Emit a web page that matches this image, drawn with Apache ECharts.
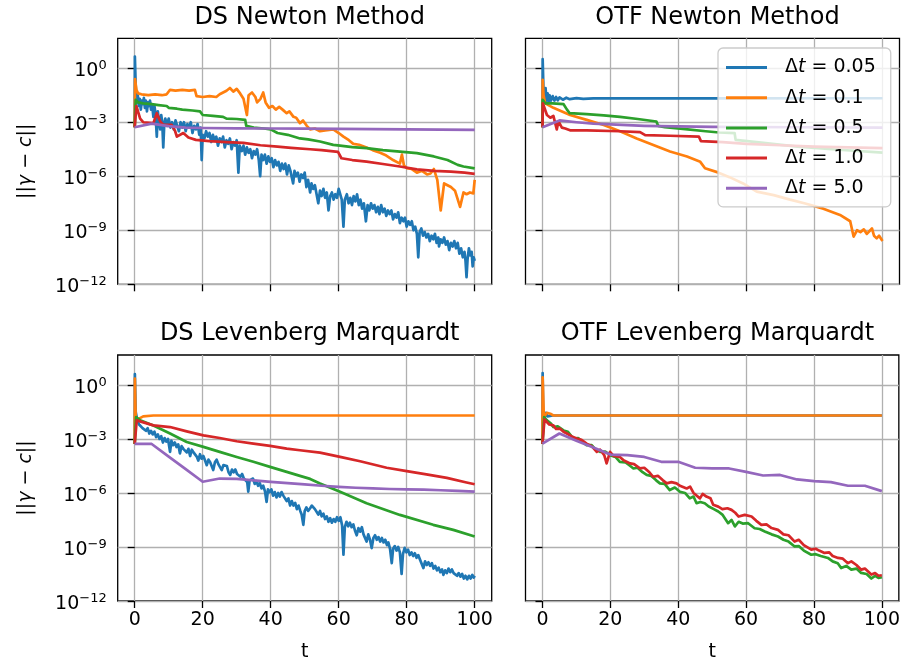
<!DOCTYPE html>
<html>
<head>
<meta charset="utf-8">
<script src="https://cdn.jsdelivr.net/npm/echarts@6/dist/echarts.min.js"></script>
<style>
  html, body { margin: 0; padding: 0; background: #fff; }
  #chart { width: 903px; height: 664px; }
</style>
</head>
<body>
<div id="chart"></div>
<script>
// Convergence of ||γ − c|| over time for four solver variants and five time steps.
// Every series is a list of [t, log10(||γ − c||)] pairs.

const stepLabels = ['0.05', '0.1', '0.5', '1.0', '5.0'];
const lineColors = ['#1f77b4', '#ff7f0e', '#2ca02c', '#d62728', '#9467bd'];
const panelTitles = ['DS Newton Method', 'OTF Newton Method', 'DS Levenberg Marquardt', 'OTF Levenberg Marquardt'];
const xTickValues = [0, 20, 40, 60, 80, 100];
const yTickExponents = [-12, -9, -6, -3, 0];

// ---- DS Newton Method ----
const dsNewtonDt005 = [[0,-3.28],[0.05,0.65],[0.3,-1.0],[0.6,-1.9],[0.9,-1.5],[1.2,-2.1],[1.5,-1.7],[1.8,-2.3],[2.1,-1.8],[2.4,-2.0],[2.7,-1.65],[3.0,-2.2],[3.3,-1.8],[3.6,-2.4],[3.9,-1.9],[4.2,-2.1],[4.5,-1.8],[4.8,-2.3],[5.1,-2.0],[5.5,-2.7],[5.8,-2.1],[6.1,-2.5],[6.5,-3.8],[6.8,-2.4],[7.1,-2.9],[7.5,-3.4],[7.8,-2.6],[8.1,-3.0],[8.4,-4.4],[8.7,-3.1],[9.0,-2.8],[9.5,-3.2],[10,-2.8],[10.5,-3.3],[11,-3.0],[11.5,-3.4],[12,-2.9],[12.5,-3.2],[13,-3.5],[13.5,-3.0],[14,-3.3],[14.5,-3.0],[15,-3.5],[15.5,-3.1],[16,-3.3],[16.5,-3.0],[17,-3.6],[17.5,-3.2],[18,-3.4],[18.5,-3.1],[19,-3.7],[19.4,-3.3],[19.7,-5.1],[20,-3.7],[20.5,-3.9],[21,-3.5],[21.5,-3.8],[22,-3.6],[22.5,-4.1],[23,-3.7],[23.5,-4.0],[24,-3.8],[24.5,-4.3],[25,-3.9],[25.5,-4.1],[26,-3.8],[26.5,-4.4],[27,-4.0],[27.5,-4.2],[28,-3.9],[28.5,-4.5],[29,-4.1],[29.5,-4.3],[30,-4.0],[30.5,-5.8],[30.9,-4.3],[31.5,-4.6],[32,-4.3],[32.5,-4.8],[33,-4.4],[33.5,-4.7],[34,-4.5],[34.5,-5.0],[35,-4.6],[35.5,-4.8],[36,-4.5],[36.5,-5.1],[36.9,-6.0],[37.3,-4.8],[37.8,-5.1],[38.3,-4.8],[38.8,-5.3],[39.3,-4.9],[39.8,-5.2],[40.3,-5.0],[40.8,-5.5],[41.3,-5.1],[41.8,-5.4],[42.3,-5.2],[42.8,-5.7],[43.3,-5.3],[43.8,-5.6],[44.3,-5.3],[44.8,-5.9],[45.3,-5.4],[45.8,-5.7],[46.3,-5.6],[46.6,-6.4],[47,-5.7],[47.5,-6.0],[48,-5.8],[48.5,-6.3],[49,-5.9],[49.5,-6.1],[50,-5.8],[50.5,-6.6],[51,-6.2],[51.6,-6.9],[52,-6.4],[52.5,-6.7],[53,-6.5],[53.5,-7.0],[54,-7.5],[54.5,-6.8],[55,-7.1],[55.5,-6.7],[56,-7.2],[56.5,-6.9],[57,-7.9],[57.5,-7.1],[58,-6.9],[58.5,-7.3],[59,-7.0],[59.5,-7.2],[60,-6.7],[60.4,-6.6],[60.9,-7.3],[61.4,-8.8],[61.8,-7.3],[62.4,-7.0],[62.9,-7.5],[63.4,-7.2],[63.9,-7.6],[64.4,-7.1],[64.9,-7.4],[65.4,-7.0],[65.9,-7.6],[66.4,-7.3],[66.9,-7.8],[67.4,-7.5],[68,-8.5],[68.5,-7.6],[69,-7.9],[69.5,-7.5],[70,-7.8],[70.5,-7.6],[71,-8.0],[71.5,-7.7],[72,-8.1],[72.5,-7.6],[73,-8.0],[73.5,-7.8],[74,-8.2],[74.5,-7.9],[75,-8.1],[75.5,-7.9],[76,-8.4],[76.5,-8.1],[77,-8.3],[77.5,-8.0],[78,-8.6],[78.5,-8.3],[79,-8.5],[79.5,-8.3],[80,-8.8],[80.5,-8.5],[81,-8.7],[81.5,-8.5],[82,-9.0],[82.5,-8.8],[83,-9.2],[83.4,-10.5],[83.8,-9.1],[84.3,-8.9],[84.8,-9.3],[85.3,-9.1],[85.8,-9.4],[86.3,-9.2],[86.8,-9.6],[87.3,-9.3],[87.8,-9.5],[88.3,-9.2],[88.8,-9.7],[89.3,-9.4],[89.5,-9.9],[90,-9.5],[90.5,-9.7],[91,-9.4],[91.5,-9.8],[92,-9.6],[92.5,-10.1],[93,-9.7],[93.5,-9.9],[94,-9.6],[94.5,-10.0],[95,-9.7],[95.5,-10.3],[96,-10.0],[96.5,-10.5],[97,-10.2],[97.3,-10.7],[97.6,-11.6],[97.9,-10.6],[98.3,-10.0],[98.7,-10.4],[99.1,-10.2],[99.4,-11.0],[99.7,-10.5],[100,-10.7]];
const dsNewtonDt01 = [[0,-3.28],[0.1,-0.6],[0.5,-1.2],[1,-1.4],[2,-1.45],[4,-1.5],[6,-1.45],[8,-1.5],[9.4,-1.45],[10.4,-1.2],[12,-1.25],[14,-1.2],[16,-1.25],[17.7,-1.2],[18.2,-1.55],[20,-1.6],[22,-1.55],[24,-1.6],[25,-1.45],[26,-1.35],[27,-1.25],[28,-1.1],[29,-1.3],[30,-1.15],[31,-1.4],[32,-1.7],[33,-2.6],[33.5,-1.5],[34.5,-1.35],[35.5,-1.6],[36,-1.9],[37,-1.7],[37.8,-1.35],[38.5,-1.9],[39.5,-2.2],[40.5,-2.1],[41.5,-2.3],[42.5,-2.15],[43.5,-2.3],[44.7,-2.5],[45.5,-2.4],[46.7,-2.7],[47.5,-2.75],[48.6,-3.05],[49.5,-2.9],[50.6,-3.2],[51.6,-3.4],[53,-3.35],[54.5,-3.5],[56,-3.45],[58.4,-3.4],[60,-3.6],[61.4,-3.8],[63,-4.0],[64.3,-4.2],[66,-4.25],[68.2,-4.4],[70,-4.55],[72.2,-4.7],[74,-4.85],[76,-5.1],[78,-5.3],[78.6,-4.8],[79.2,-5.4],[80,-5.55],[81.5,-5.6],[83,-5.8],[84.5,-5.7],[86,-5.9],[87,-5.85],[88,-5.6],[89,-6.2],[90,-7.9],[91,-6.4],[92,-6.5],[93,-6.6],[94.2,-6.8],[95.7,-7.7],[96.7,-6.9],[97.6,-7.0],[98.6,-6.9],[99.6,-6.95],[100,-6.2]];
const dsNewtonDt05 = [[0,-3.28],[0.3,-1.76],[1,-1.9],[2.5,-1.95],[5,-2.0],[7,-2.05],[9.4,-2.1],[10,-2.2],[12.4,-2.25],[14,-2.3],[17,-2.35],[19.2,-2.4],[20,-2.6],[23,-2.65],[26,-2.7],[27,-2.8],[30,-2.82],[32.5,-2.87],[32.8,-3.2],[35,-3.3],[38,-3.35],[40,-3.4],[42,-3.6],[45,-3.7],[48.6,-3.9],[51,-3.95],[54.5,-4.07],[58.4,-4.26],[60.4,-4.3],[64,-4.38],[68.2,-4.44],[73,-4.55],[78,-4.63],[83,-4.72],[88,-4.9],[92,-5.1],[95,-5.37],[96.7,-5.46],[100,-5.56]];
const dsNewtonDt10 = [[0,-3.28],[0.5,-2.1],[1.6,-2.8],[2.5,-3.0],[5.5,-3.05],[6.5,-2.5],[7.5,-2.95],[8.4,-3.15],[10.9,-3.15],[11.9,-3.5],[12.4,-3.8],[14.3,-3.6],[15.8,-3.85],[18,-3.98],[22,-4.05],[27,-4.1],[32,-4.15],[37,-4.28],[42,-4.35],[46,-4.42],[51.6,-4.5],[55,-4.55],[59.8,-4.65],[60.8,-5.0],[64,-5.1],[68.2,-5.19],[73,-5.32],[78,-5.46],[83,-5.62],[88,-5.7],[93,-5.74],[97,-5.8],[100,-5.87]];
const dsNewtonDt50 = [[0,-3.28],[5,-3.08],[10,-3.22],[15,-3.3],[20,-3.32],[30,-3.34],[40,-3.35],[50,-3.36],[60,-3.37],[70,-3.38],[80,-3.4],[90,-3.41],[100,-3.43]];

// ---- OTF Newton Method ----
const otfNewtonDt005 = [[0,-3.28],[0.05,0.5],[0.3,-1.3],[0.6,-1.9],[0.9,-1.1],[1.2,-1.8],[1.5,-1.4],[1.8,-1.85],[2.1,-1.5],[2.5,-1.8],[3,-1.55],[3.5,-1.8],[4,-1.6],[4.5,-1.78],[5,-1.62],[6,-1.75],[7,-1.64],[8,-1.72],[10,-1.66],[12,-1.7],[15,-1.68],[20,-1.68],[40,-1.68],[60,-1.68],[80,-1.67],[100,-1.67]];
const otfNewtonDt01 = [[0,-3.28],[0.05,-0.65],[0.3,-1.5],[0.8,-1.95],[3.2,-2.2],[8.1,-2.6],[13,-2.87],[18,-3.15],[22.8,-3.5],[27.7,-3.9],[32.6,-4.26],[37.5,-4.63],[42.5,-4.9],[46.4,-5.2],[47.8,-5.56],[51.8,-5.8],[55,-6.05],[59,-6.4],[63,-6.85],[68,-7.05],[72.8,-7.3],[77,-7.5],[82.6,-7.8],[87.5,-8.15],[90.5,-8.5],[91.5,-9.35],[92.5,-9.0],[93.5,-9.1],[94.5,-8.95],[95.4,-9.2],[96.9,-8.9],[97.5,-9.3],[98.3,-9.45],[99,-9.3],[100,-9.6]];
const otfNewtonDt05 = [[0,-3.28],[0.05,-1.76],[0.8,-1.95],[3,-1.95],[6.2,-2.0],[7.2,-2.3],[8,-2.5],[13,-2.55],[18,-2.62],[22.8,-2.7],[28,-2.82],[33.5,-2.96],[34,-3.2],[36,-3.28],[42,-3.38],[48,-3.5],[52,-3.57],[56.5,-3.6],[56.8,-3.98],[65,-4.15],[75,-4.35],[85,-4.5],[100,-4.69]];
const otfNewtonDt10 = [[0,-3.28],[0.1,-1.95],[1.3,-2.6],[2.3,-2.75],[3.2,-2.65],[4.2,-3.4],[4.7,-2.95],[5.7,-3.3],[6.7,-3.35],[8.1,-3.45],[13,-3.45],[22.8,-3.5],[28.7,-3.55],[30.2,-3.72],[37.5,-3.75],[46,-3.8],[46.6,-4.05],[53,-4.1],[60,-4.2],[70,-4.28],[80,-4.35],[90,-4.4],[100,-4.44]];
const otfNewtonDt50 = [[0,-3.28],[5,-2.9],[10,-3.0],[15,-3.08],[20,-3.12],[25,-3.16],[30,-3.2],[35,-3.22],[50,-3.26],[75,-3.28],[100,-3.3]];

// ---- DS Levenberg Marquardt ----
const dsLmDt005 = [[0,-3.28],[0.05,0.6],[0.3,-1.5],[0.8,-2.0],[1.3,-2.2],[1.8,-2.1],[2.3,-2.4],[2.8,-2.3],[3.3,-2.55],[3.8,-2.4],[4.3,-2.7],[4.8,-2.55],[5.3,-2.75],[5.8,-2.6],[6.3,-2.9],[6.8,-2.75],[7.3,-3.0],[7.8,-2.85],[8.3,-3.2],[8.8,-2.95],[9.3,-3.15],[9.8,-3.0],[10.4,-3.72],[10.8,-3.1],[11.3,-3.35],[11.8,-3.2],[12.3,-3.45],[12.8,-3.3],[13.3,-3.8],[13.8,-3.4],[14.3,-3.55],[14.8,-3.45],[15.3,-3.75],[15.8,-3.55],[16.3,-3.95],[16.8,-3.6],[17.3,-3.75],[17.8,-3.7],[18.3,-4.0],[18.7,-4.2],[19.2,-3.85],[19.7,-4.1],[20.2,-3.95],[20.7,-4.2],[21.2,-4.46],[21.7,-4.15],[22.2,-4.3],[22.7,-4.2],[23.1,-4.73],[23.6,-4.3],[24.1,-4.15],[24.6,-4.4],[25.1,-4.3],[25.6,-4.73],[26.1,-4.45],[26.6,-4.55],[27.1,-4.5],[27.6,-4.85],[28.1,-5.0],[28.6,-4.7],[29.1,-4.85],[29.6,-4.7],[30.1,-4.95],[30.6,-4.85],[31.1,-5.1],[31.6,-4.95],[32.1,-5.2],[32.6,-5.1],[33.1,-5.4],[33.4,-5.93],[33.8,-5.3],[34.3,-5.35],[34.8,-5.2],[35.3,-5.5],[35.8,-5.35],[36.3,-5.6],[36.8,-5.45],[37.3,-5.75],[37.8,-5.6],[38.3,-5.9],[38.8,-6.5],[39.2,-5.8],[39.7,-5.95],[40.2,-5.8],[40.7,-6.15],[41.2,-5.95],[41.7,-6.25],[42.2,-6.0],[42.7,-6.2],[43.2,-5.95],[43.7,-6.15],[44.2,-6.1],[44.7,-6.45],[45.2,-6.3],[45.7,-6.7],[46.2,-6.45],[46.7,-6.7],[47.2,-6.55],[47.7,-6.9],[48.2,-6.7],[48.7,-7.0],[49.1,-7.2],[49.6,-7.77],[50,-7.0],[50.5,-6.8],[51,-7.0],[51.6,-6.85],[52.1,-6.7],[52.5,-6.6],[53,-6.9],[53.5,-6.85],[54,-7.2],[54.5,-7.0],[55,-7.3],[55.5,-7.15],[56,-7.45],[56.5,-7.3],[57,-7.6],[57.5,-7.4],[58,-7.65],[58.5,-7.45],[59,-7.6],[59.5,-7.35],[60,-7.55],[60.5,-7.35],[61,-7.8],[61.4,-9.43],[61.8,-7.9],[62.3,-7.6],[62.8,-7.85],[63.3,-7.65],[63.8,-7.9],[64.3,-7.75],[64.8,-8.1],[65.3,-8.35],[65.8,-7.95],[66.3,-8.15],[66.8,-7.9],[67.3,-8.3],[67.8,-8.2],[68.2,-8.7],[68.7,-8.3],[69.2,-8.6],[69.7,-9.06],[70.2,-8.5],[70.7,-8.35],[71.2,-8.6],[71.7,-8.45],[72.2,-8.7],[72.7,-8.5],[73.2,-8.75],[73.7,-8.6],[74.2,-8.9],[74.6,-8.75],[75.1,-9.1],[75.6,-9.9],[76,-9.1],[76.5,-8.95],[77,-9.2],[77.5,-9.0],[78,-9.3],[78.5,-10.5],[78.9,-9.4],[79.4,-9.05],[79.9,-9.3],[80.4,-9.15],[80.9,-9.45],[81.4,-9.3],[81.9,-9.5],[82.4,-9.35],[82.9,-9.6],[83.4,-9.45],[83.9,-9.7],[84.4,-9.6],[84.9,-10.17],[85.4,-9.8],[85.9,-10.0],[86.4,-9.85],[86.9,-10.05],[87.4,-9.9],[87.9,-10.2],[88.4,-10.05],[88.9,-10.3],[89.4,-10.15],[89.9,-10.4],[90.4,-10.25],[90.8,-10.55],[91.3,-10.3],[91.8,-10.45],[92.3,-10.2],[92.8,-10.4],[93.3,-10.25],[93.8,-10.45],[94.3,-10.35],[94.8,-10.6],[95.3,-10.45],[95.8,-10.65],[96.3,-10.5],[96.8,-10.75],[97.3,-10.6],[97.8,-10.8],[98.3,-10.6],[98.8,-10.75],[99.3,-10.55],[99.7,-10.7],[100,-10.6]];
const dsLmDt01 = [[0,-3.28],[0.05,0.35],[0.3,-1.9],[1,-1.9],[2.5,-1.75],[5.5,-1.7],[100,-1.7]];
const dsLmDt05 = [[0,-3.28],[0.4,-1.79],[1.6,-1.97],[5.5,-2.25],[10.4,-2.7],[15.3,-3.17],[20.2,-3.44],[25,-3.72],[30,-4.0],[34.9,-4.27],[39.8,-4.55],[44.7,-4.83],[48.6,-5.05],[51.6,-5.22],[54.5,-5.47],[60.4,-5.93],[68.2,-6.57],[78,-7.22],[87.8,-7.77],[93.7,-8.05],[100,-8.42]];
const dsLmDt10 = [[0,-3.28],[0.6,-1.97],[5.5,-2.25],[10.4,-2.34],[15.3,-2.58],[20.2,-2.8],[25,-2.95],[30,-3.13],[34.9,-3.26],[39.8,-3.39],[44.7,-3.54],[48.6,-3.63],[54.5,-3.76],[60.4,-4.0],[66.3,-4.24],[74.1,-4.6],[80,-4.79],[85.8,-4.97],[91.8,-5.16],[97.6,-5.42],[100,-5.52]];
const dsLmDt50 = [[0,-3.28],[5,-3.28],[10,-3.98],[15,-4.68],[20,-5.38],[25,-5.2],[30,-5.22],[35,-5.3],[40,-5.38],[45,-5.45],[50,-5.52],[55,-5.6],[60,-5.66],[65,-5.71],[70,-5.75],[75,-5.78],[80,-5.8],[85,-5.82],[90,-5.85],[95,-5.89],[100,-5.93]];

// ---- OTF Levenberg Marquardt ----
const otfLmDt005 = [[0,-3.28],[0.05,0.66],[0.2,-1.5],[0.5,-1.9],[1,-1.55],[1.5,-1.75],[3,-1.7],[100,-1.7]];
const otfLmDt01 = [[0,-3.28],[0.05,0.42],[0.4,-1.8],[1.3,-1.55],[2.3,-1.6],[3.2,-1.7],[100,-1.7]];
const otfLmDt05 = [[0,-3.28],[0.5,-1.79],[1.3,-1.97],[2.5,-2.15],[3.2,-2.34],[4.5,-2.3],[6.2,-2.53],[7.5,-2.6],[9.1,-2.98],[10.5,-2.95],[12,-3.2],[13,-3.35],[14.5,-3.35],[15.5,-3.55],[17,-3.72],[18.5,-3.7],[19.9,-3.9],[21.5,-4.0],[22.8,-4.27],[24.5,-4.3],[25.5,-4.45],[26.8,-4.64],[28,-4.6],[29.5,-4.85],[30.7,-5.0],[32,-5.05],[33.5,-5.3],[34.6,-5.47],[36,-5.5],[37.5,-5.84],[39,-5.7],[40.5,-5.93],[42,-6.0],[43.4,-6.3],[44.5,-6.2],[45.4,-6.57],[46.5,-6.5],[47.8,-6.57],[49,-6.75],[50.5,-6.9],[51.8,-7.03],[53,-7.2],[54.7,-7.68],[55.7,-7.5],[56.7,-7.86],[57.8,-7.6],[59,-7.7],[60.6,-7.68],[62.5,-7.96],[64,-8.0],[65.5,-8.14],[67.5,-8.3],[69.4,-8.42],[71,-8.6],[72.5,-8.7],[74.3,-8.97],[75.5,-8.95],[77,-9.2],[79.2,-9.43],[80.5,-9.4],[82,-9.5],[84.1,-9.61],[85.5,-9.8],[87,-9.9],[88,-10.17],[89.5,-10.05],[91,-10.26],[92.5,-10.2],[93.9,-10.44],[95.5,-10.5],[96.9,-10.75],[98,-10.6],[99,-10.72],[100,-10.68]];
const otfLmDt10 = [[0,-3.28],[0.6,-1.92],[1.3,-2.06],[2,-2.2],[3.2,-2.25],[4,-2.45],[5.2,-2.43],[6.2,-2.6],[7.2,-2.7],[8.5,-2.85],[10.1,-2.98],[11.5,-3.05],[13,-3.26],[14.5,-3.4],[16,-3.72],[17,-3.6],[18.2,-3.9],[18.9,-4.36],[19.9,-3.72],[21,-3.95],[22.8,-4.0],[24,-4.2],[25.8,-4.36],[27,-4.4],[28.7,-4.64],[30,-4.6],[31.5,-4.85],[32.6,-5.1],[34,-5.05],[35.5,-5.3],[36.6,-5.47],[38,-5.4],[39.5,-5.47],[40.5,-5.6],[42.5,-5.75],[43.5,-5.65],[44.5,-6.0],[46.4,-6.3],[47.2,-6.05],[48.3,-6.2],[49.5,-6.3],[50.3,-6.66],[51.8,-6.76],[53,-6.9],[54.5,-6.85],[55.7,-6.94],[56.8,-7.1],[57.8,-7.31],[59.6,-7.22],[61.6,-7.31],[63,-7.55],[64.5,-7.77],[66,-7.75],[67.5,-7.95],[69.4,-8.05],[71,-8.3],[72.5,-8.35],[74.3,-8.7],[75.5,-8.6],[77,-8.9],[79.2,-9.15],[80.5,-9.1],[81.5,-9.2],[83.1,-9.33],[84.5,-9.3],[85.5,-9.5],[87.1,-9.61],[88.5,-9.65],[90,-9.9],[91,-9.8],[92.5,-10.0],[93.9,-10.26],[95,-10.2],[96.9,-10.53],[98,-10.45],[99,-10.6],[100,-10.57]];
const otfLmDt50 = [[0,-3.26],[5,-2.7],[10,-3.1],[15,-3.48],[20,-3.87],[25,-3.9],[30,-4.0],[35,-4.27],[40,-4.27],[45,-4.6],[50,-4.64],[55,-4.64],[60,-4.83],[65,-5.03],[70,-5.0],[75,-5.25],[80,-5.34],[85,-5.4],[90,-5.6],[95,-5.6],[100,-5.9]];

const panelSeries = [
  [dsNewtonDt005, dsNewtonDt01, dsNewtonDt05, dsNewtonDt10, dsNewtonDt50],
  [otfNewtonDt005, otfNewtonDt01, otfNewtonDt05, otfNewtonDt10, otfNewtonDt50],
  [dsLmDt005, dsLmDt01, dsLmDt05, dsLmDt10, dsLmDt50],
  [otfLmDt005, otfLmDt01, otfLmDt05, otfLmDt10, otfLmDt50]
];

// ---- layout ----
const FONT = 'DejaVu Sans';
const TICK_FONT = 19;
const panelW = 374, panelH = 246;
const colLeft = [117.7, 525.5];
const rowTop = [38.3, 355];
const yMin = 1e-12, yMax = Math.pow(10, 1.66);

const seriesName = s => 'Δt = ' + s;
const toPoints = arr => arr.map(([t, e]) => [t, Math.pow(10, e)]);

const supExp = p => (p < 0 ? '−' + (-p) : String(p));
const yLabelFormatter = v => {
  const p = v > 0 ? Math.round(Math.log10(v)) : Math.round(v);
  return '{b|10}{s|' + supExp(p) + '}';
};

const grids = [], xAxes = [], yAxes = [], series = [], titles = [];
for (let k = 0; k < 4; k++) {
  const r = Math.floor(k / 2), c = k % 2;
  const left = colLeft[c], top = rowTop[r];
  grids.push({
    left: left, top: top, width: panelW, height: panelH,
    show: true, borderColor: '#000', borderWidth: 1.3, backgroundColor: 'transparent',
    containLabel: false
  });
  titles.push({
    text: panelTitles[k],
    left: left + panelW / 2, top: top - 38, textAlign: 'center',
    textStyle: { fontFamily: FONT, fontSize: 24, fontWeight: 'normal', color: '#000' }
  });
  xAxes.push({
    type: 'value', gridIndex: k, min: -5, max: 105,
    axisLine: { show: false },
    axisTick: { show: true, length: 7, customValues: xTickValues, lineStyle: { color: '#000', width: 1.3 } },
    axisLabel: {
      show: r === 1, customValues: xTickValues, margin: 10,
      fontFamily: FONT, fontSize: TICK_FONT, color: '#000'
    },
    splitLine: { show: true, lineStyle: { color: '#b0b0b0', width: 1.3 } },
    name: r === 1 ? 't' : '', nameLocation: 'middle', nameGap: 42,
    nameTextStyle: { fontFamily: FONT, fontSize: TICK_FONT, color: '#000' }
  });
  yAxes.push({
    type: 'log', logBase: 10, gridIndex: k, min: yMin, max: yMax,
    axisLine: { show: false },
    axisTick: { show: true, length: 7, customValues: yTickExponents.map(p => Math.pow(10, p)), lineStyle: { color: '#000', width: 1.3 } },
    axisLabel: {
      show: c === 0, customValues: yTickExponents.map(p => Math.pow(10, p)), margin: 11,
      formatter: yLabelFormatter, color: '#000',
      rich: {
        b: { fontFamily: FONT, fontSize: TICK_FONT, color: '#000', padding: [6, 0, 0, 0] },
        s: { fontFamily: FONT, fontSize: 13, color: '#000', padding: [0, 0, 5, 0] }
      }
    },
    splitLine: { show: true, lineStyle: { color: '#b0b0b0', width: 1.3 } },
    name: c === 0 ? '||{i|γ} − {i|c}||' : '', nameLocation: 'middle', nameRotate: 90, nameGap: 82,
    nameTextStyle: {
      fontFamily: FONT, fontSize: TICK_FONT, color: '#000',
      rich: { i: { fontFamily: FONT, fontSize: TICK_FONT, fontStyle: 'italic', color: '#000' } }
    }
  });
  panelSeries[k].forEach((arr, i) => {
    series.push({
      type: 'line', name: seriesName(stepLabels[i]),
      xAxisIndex: k, yAxisIndex: k,
      data: toPoints(arr),
      showSymbol: false, symbol: 'none',
      color: lineColors[i],
      lineStyle: { width: 2.7, color: lineColors[i], join: 'round' },
      emphasis: { disabled: true },
      animation: false
    });
  });
}

const chart = echarts.init(document.getElementById('chart'), null, { renderer: 'canvas' });
chart.setOption({
  backgroundColor: '#fff',
  animation: false,
  title: titles,
  grid: grids,
  xAxis: xAxes,
  yAxis: yAxes,
  legend: {
    left: 718, top: 48,
    orient: 'vertical',
    data: stepLabels.map(s => ({ name: seriesName(s), icon: 'rect' })),
    itemWidth: 41, itemHeight: 3,
    itemGap: 11.2,
    padding: [10, 15, 9, 8],
    backgroundColor: 'rgba(255,255,255,0.8)',
    borderColor: '#cccccc', borderWidth: 1.3, borderRadius: 5,
    selectedMode: false,
    formatter: name => '{n|Δ}{i|t}{n| = ' + name.split('= ')[1] + '}',
    textStyle: {
      fontFamily: FONT, fontSize: TICK_FONT, color: '#000', padding: [0, 0, 0, 13],
      rich: {
        n: { fontFamily: FONT, fontSize: TICK_FONT, color: '#000' },
        i: { fontFamily: FONT, fontSize: TICK_FONT, fontStyle: 'italic', color: '#000' }
      }
    }
  },
  series: series
});
</script>
</body>
</html>
